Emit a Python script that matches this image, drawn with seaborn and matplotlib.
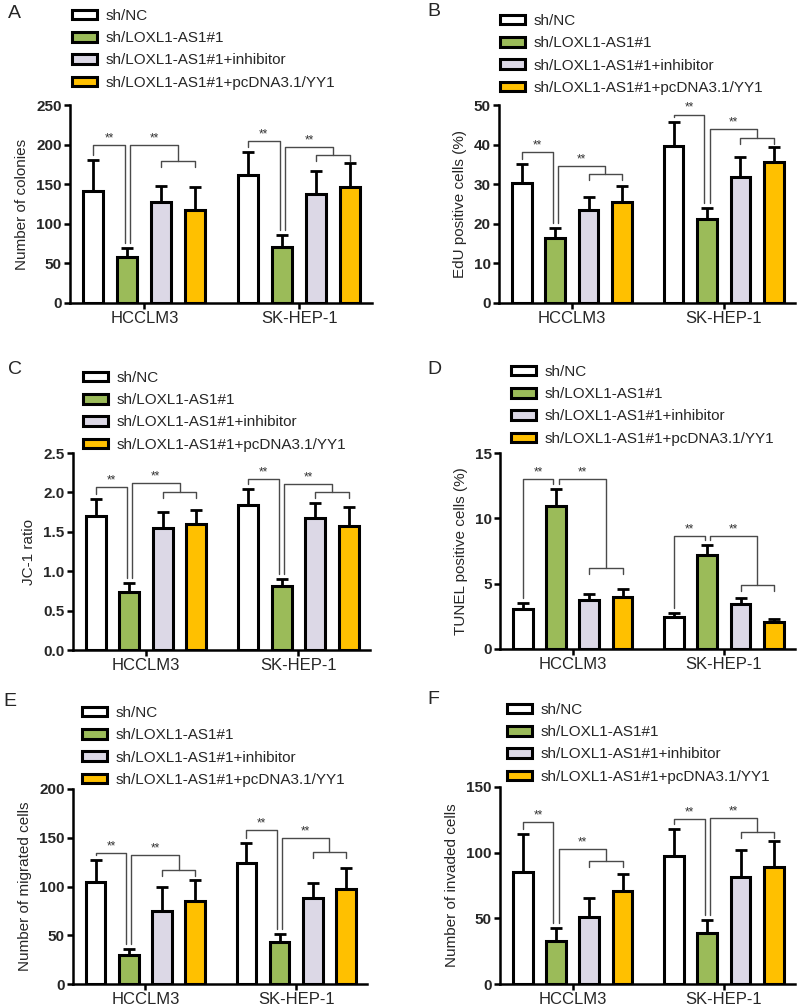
import numpy as np
import pandas as pd
import matplotlib
matplotlib.use("Agg")
import matplotlib.pyplot as plt
from matplotlib.patches import Patch
import seaborn as sns

sns.set_theme(style="ticks")
plt.rcParams["font.family"] = ["Liberation Sans", "DejaVu Sans"]

cells = ["HCCLM3", "SK-HEP-1"]
groups = ["sh/NC", "sh/LOXL1-AS1#1", "sh/LOXL1-AS1#1+inhibitor",
          "sh/LOXL1-AS1#1+pcDNA3.1/YY1"]
colors = ["#FFFFFF", "#9BBB59", "#DCD8E6", "#FFC000"]

# Panel A: Number of colonies  (rows = cells, cols = groups)
colonies_mean = [[141, 58, 127, 118], [162, 71, 137, 147]]
colonies_err = [[39, 11, 21, 28], [29, 15, 30, 29.5]]
colonies_brk = [[200, 199, 179], [205, 197.5, 187]]
# Panel B: EdU positive cells (%)
edu_mean = [[30.4, 16.4, 23.6, 25.6], [39.6, 21.1, 31.9, 35.5]]
edu_err = [[4.6, 2.5, 3.2, 4.0], [6.0, 2.8, 5.0, 3.8]]
edu_brk = [[38.1, 34.7, 32.5], [47.6, 43.9, 41.7]]
# Panel C: JC-1 ratio
jc1_mean = [[1.70, 0.74, 1.55, 1.60], [1.84, 0.81, 1.67, 1.57]]
jc1_err = [[0.22, 0.11, 0.20, 0.18], [0.20, 0.09, 0.19, 0.25]]
jc1_brk = [[2.07, 2.12, 2.01], [2.17, 2.11, 2.00]]
# Panel D: TUNEL positive cells (%)
tunel_mean = [[3.07, 10.96, 3.76, 4.01], [2.48, 7.16, 3.48, 2.04]]
tunel_err = [[0.43, 1.31, 0.48, 0.59], [0.31, 0.81, 0.40, 0.29]]
tunel_brk = [[13.0, 13.0, 6.2], [8.66, 8.66, 4.9]]
# Panel E: Number of migrated cells
migr_mean = [[104.5, 29.8, 75, 85.6], [124, 43.5, 88, 97.3]]
migr_err = [[23, 6, 24, 21], [20.5, 7.5, 16, 22]]
migr_brk = [[134, 132, 117], [158, 150, 135]]
# Panel F: Number of invaded cells
inv_mean = [[85, 32.7, 50.7, 70.7], [97.5, 38.8, 81.6, 89.2]]
inv_err = [[29.5, 10, 14.5, 12.7], [20.3, 10, 20.2, 19.7]]
inv_brk = [[123, 102.6, 93.5], [125.4, 126.4, 116]]

W, H = 797, 1008
fig = plt.figure(figsize=(W / 100, H / 100), dpi=100)

panels = [
    # letter, mean, err, brackets, ylabel, ymax, ystep, fmt, axes px (l, r, top, bottom), letter px, legend px
    ("A", colonies_mean, colonies_err, colonies_brk, "Number of colonies", 250, 50, "%d",
     (70, 372, 105, 303), (8, 14), (72, 9)),
    ("B", edu_mean, edu_err, edu_brk, "EdU positive cells (%)", 50, 10, "%d",
     (499, 795, 105, 303), (427, 12), (500, 14)),
    ("C", jc1_mean, jc1_err, jc1_brk, "JC-1 ratio", 2.5, 0.5, "%.1f",
     (73, 370, 453, 650), (8, 370), (83, 371)),
    ("D", tunel_mean, tunel_err, tunel_brk, "TUNEL positive cells (%)", 15, 5, "%d",
     (500, 795, 453, 649), (427, 370), (511, 365)),
    ("E", migr_mean, migr_err, migr_brk, "Number of migrated cells", 200, 50, "%d",
     (73, 367, 789, 984), (3, 702), (82, 706)),
    ("F", inv_mean, inv_err, inv_brk, "Number of invaded cells", 150, 50, "%d",
     (500, 795, 787, 984), (427, 700), (507, 703)),
]

for letter, mean, err, brk, ylabel, ymax, ystep, fmt, axpx, letpx, legpx in panels:
    l, r, t, b = axpx
    ax = fig.add_axes([l / W, 1 - b / H, (r - l) / W, (b - t) / H])
    rows = []
    for ci, cell in enumerate(cells):
        for gi, g in enumerate(groups):
            rows.append({"cell": cell, "group": g, "value": mean[ci][gi]})
    df = pd.DataFrame(rows)
    sns.barplot(data=df, x="cell", y="value", hue="group", order=cells,
                hue_order=groups, palette=colors, saturation=1,
                edgecolor="black", linewidth=2.2, width=0.88, gap=0.41,
                errorbar=None, legend=False, ax=ax, zorder=2)
    # bar centres from the drawn bars
    centers = [[None] * 4 for _ in cells]
    for gi, cont in enumerate(ax.containers):
        for ci, bar in enumerate(cont):
            centers[ci][gi] = bar.get_x() + bar.get_width() / 2
    for ci in range(len(cells)):
        ax.errorbar(centers[ci], mean[ci], yerr=[[0] * 4, err[ci]], fmt="none",
                    ecolor="black", elinewidth=2.0, capsize=4.5, capthick=2.0,
                    zorder=3)
        # significance brackets
        tops = [mean[ci][k] + err[ci][k] for k in range(4)]
        pad = 0.025 * ymax
        off = 0.017
        h1, h2, h3 = brk[ci]
        x0, x1, x2, x3 = centers[ci]
        lc = "#4a4a4a"
        lw = 1.0
        # bracket 1: sh/NC vs sh/LOXL1
        ax.plot([x0, x0, x1 - off, x1 - off],
                [tops[0] + pad, h1, h1, tops[1] + pad], color=lc, lw=lw, zorder=4)
        ax.text((x0 + x1 - off) / 2, h1 + 0.003 * ymax, "**", ha="center",
                va="bottom", fontsize=8.5, color="#333333")
        # sub-bracket for inhibitor / pcDNA
        xm = (x2 + x3) / 2
        sub = 0.03 * ymax
        ax.plot([x2, x2, x3, x3], [h3 - sub, h3, h3, h3 - sub], color=lc, lw=lw, zorder=4)
        # bracket 2: sh/LOXL1 vs the two rescue groups
        ax.plot([x1 + off, x1 + off, xm, xm],
                [tops[1] + pad, h2, h2, h3], color=lc, lw=lw, zorder=4)
        ax.text((x1 + off + xm) / 2, h2 + 0.003 * ymax, "**", ha="center",
                va="bottom", fontsize=8.5, color="#333333")

    ax.set_xlim(-0.48, 1.47)
    ax.set_ylim(0, ymax)
    ticks = np.arange(0, ymax + ystep / 2, ystep)
    ax.set_yticks(ticks)
    ax.set_yticklabels([fmt % v for v in ticks], fontweight="bold", fontsize=11)
    ax.set_xticks(range(len(cells)))
    ax.set_xticklabels(cells, fontsize=12)
    ax.set_xlabel("")
    ax.set_ylabel(ylabel, fontsize=11, labelpad=5)
    sns.despine(ax=ax)
    for s in ["left", "bottom"]:
        ax.spines[s].set_linewidth(1.8)
        ax.spines[s].set_color("black")
    ax.tick_params(axis="both", width=1.8, length=4, color="black", pad=2)

    fig.text(letpx[0] / W, 1 - letpx[1] / H, letter, fontsize=14, va="center",
             ha="left")
    handles = [Patch(facecolor=c, edgecolor="black", linewidth=2.2) for c in colors]
    fig.legend(handles, groups, loc="upper left",
               bbox_to_anchor=(legpx[0] / W, 1 - legpx[1] / H),
               frameon=False, fontsize=11, borderpad=0, borderaxespad=0,
               handlelength=1.65, handleheight=0.6, handletextpad=0.55,
               labelspacing=0.54)

fig.savefig("out.png", dpi=100)
